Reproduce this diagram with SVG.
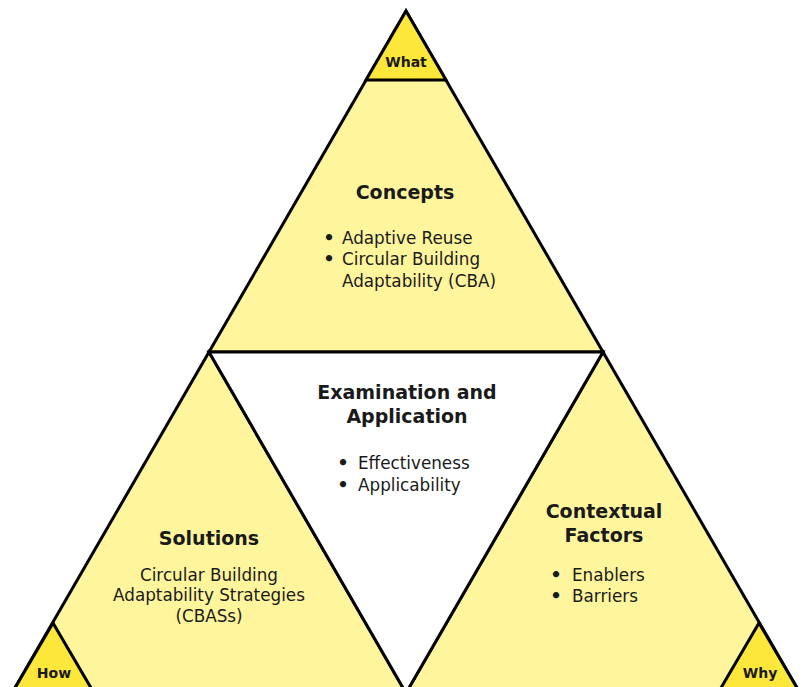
<svg xmlns="http://www.w3.org/2000/svg" width="805" height="687" viewBox="0 0 805 687">
<style>
.light{fill:#FFF59D;stroke:#000;stroke-width:3;stroke-linejoin:miter}
.bright{fill:#FDE73A;stroke:#000;stroke-width:3}
.white{fill:#FFFFFF;stroke:#000;stroke-width:3}
text{font-family:"DejaVu Sans","Liberation Sans",sans-serif;fill:#1a1a1a}
.h{font-weight:700;font-size:19px;text-anchor:middle}
.b{font-size:16.8px}
.d{font-size:18px;font-weight:700;text-anchor:middle}
.c{font-size:16.8px;text-anchor:middle}
.s{font-weight:700;font-size:14px;text-anchor:middle}
</style>
<rect width="805" height="687" fill="#FFFFFF"/>
<g id="connectors"></g>
<g id="concepts">
<polygon class="light" points="406,11 209,352 603,352"/>
<text class="h" x="405" y="199">Concepts</text>
<text class="d" x="329" y="244">•</text><text class="b" x="342" y="244">Adaptive Reuse</text>
<text class="d" x="329" y="265">•</text><text class="b" x="342" y="265">Circular Building</text>
<text class="b" x="342" y="287">Adaptability (CBA)</text>
</g>
<g id="what">
<polygon class="bright" points="406,11 366,80 446,80"/>
<text class="s" x="406" y="67">What</text>
</g>
<g id="solutions">
<polygon class="light" points="209,352 12,693 406,693"/>
<text class="h" x="209" y="545">Solutions</text>
<text class="c" x="209" y="581">Circular Building</text>
<text class="c" x="209" y="601">Adaptability Strategies</text>
<text class="c" x="209" y="622">(CBASs)</text>
</g>
<g id="how">
<polygon class="bright" points="53,623 12,693 94,693"/>
<text class="s" x="54" y="678">How</text>
</g>
<g id="contextual">
<polygon class="light" points="603,352 406,693 800,693"/>
<text class="h" x="604" y="518">Contextual</text>
<text class="h" x="604" y="542">Factors</text>
<text class="d" x="556" y="581">•</text><text class="b" x="572" y="581">Enablers</text>
<text class="d" x="556" y="602">•</text><text class="b" x="572" y="602">Barriers</text>
</g>
<g id="why">
<polygon class="bright" points="759,623 718,693 800,693"/>
<text class="s" x="760" y="678">Why</text>
</g>
<g id="examination">
<polygon class="white" points="209,352 603,352 406,693"/>
<text class="h" x="407" y="399">Examination and</text>
<text class="h" x="407" y="423">Application</text>
<text class="d" x="343" y="469">•</text><text class="b" x="358" y="469">Effectiveness</text>
<text class="d" x="343" y="491">•</text><text class="b" x="358" y="491">Applicability</text>
</g>
</svg>
